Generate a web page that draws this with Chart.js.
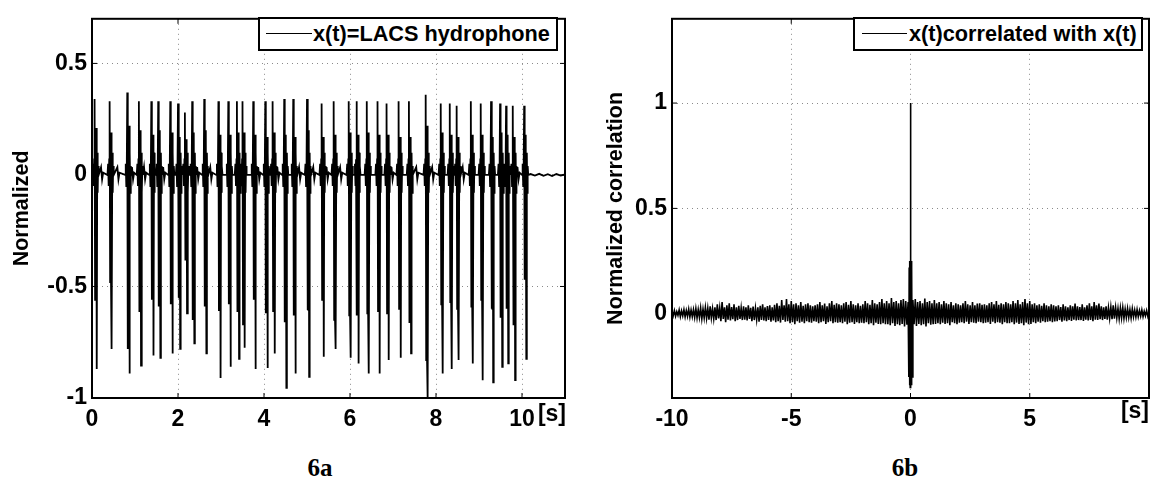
<!DOCTYPE html>
<html>
<head>
<meta charset="utf-8">
<script src="https://cdn.jsdelivr.net/npm/chart.js@4.4.1/dist/chart.umd.min.js"></script>
<style>
  body { margin: 0; background: #fff; width: 1152px; height: 484px; position: relative; overflow: hidden;
         font-family: 'Liberation Sans', Arial, sans-serif; }
  canvas { position: absolute; top: 0; }
  #sig { left: 0; }
  #corr { left: 580px; }
  .legend { position: absolute; top: 17px; height: 34px; box-sizing: border-box; border: 2px solid #000;
            background: #fff; font-weight: bold; font-size: 21.7px; line-height: 30px; white-space: nowrap; }
  .legend .ln { position: absolute; top: 14px; border-top: 1px solid #000; }
  .legend span { position: absolute; top: 0; }
  .unit { position: absolute; font-weight: bold; font-size: 23px; line-height: 23px; }
  .cap { position: absolute; top: 455px; font-family: 'Liberation Serif', 'Times New Roman', serif;
         font-weight: bold; font-size: 25px; line-height: 25px; transform: translateX(-50%); }
</style>
</head>
<body>
<canvas id="sig" width="580" height="440"></canvas>
<canvas id="corr" width="572" height="440"></canvas>

<div class="legend" style="left:258px;width:300px">
  <div class="ln" style="left:6px;width:46px"></div><span style="left:53px">x(t)=LACS hydrophone</span>
</div>
<div class="legend" style="left:853px;width:290px">
  <div class="ln" style="left:7px;width:45px"></div><span style="left:54px">x(t)correlated with x(t)</span>
</div>
<div class="unit" style="right:586px;top:402px">[s]</div>
<div class="unit" style="right:3px;top:399px">[s]</div>
<div class="cap" style="left:320px">6a</div>
<div class="cap" style="left:905px">6b</div>

<script>
// ---- 6a: hydrophone clicks (times in s, peak values)
const clickTimes = [0.06,0.41,0.82,1.09,1.38,1.54,1.82,2.00,2.16,2.33,2.61,2.94,3.17,3.37,3.50,3.75,4.03,4.20,4.47,4.68,
  5.00,5.34,5.62,5.97,6.15,6.39,6.64,6.85,7.13,7.37,7.76,8.11,8.32,8.48,8.81,9.04,9.28,9.49,9.63,9.79,10.05];
const clickHi = [0.34,0.33,0.37,0.33,0.33,0.33,0.33,0.32,0.28,0.33,0.34,0.33,0.33,0.33,0.33,0.33,0.33,0.33,0.34,0.34,
  0.34,0.32,0.33,0.33,0.33,0.33,0.33,0.32,0.33,0.33,0.36,0.32,0.32,0.31,0.33,0.32,0.33,0.32,0.31,0.31,0.31];
const clickLo = [-0.87,-0.78,-0.89,-0.855,-0.81,-0.82,-0.80,-0.78,-0.62,-0.755,-0.80,-0.91,-0.86,-0.825,-0.775,-0.87,-0.865,-0.80,-0.955,-0.89,
  -0.905,-0.815,-0.78,-0.82,-0.845,-0.89,-0.89,-0.83,-0.82,-0.80,-1.0,-0.89,-0.87,-0.83,-0.845,-0.92,-0.93,-0.86,-0.845,-0.92,-0.825];
const echoLo = [-0.56,-0.48,-0.78,-0.61,-0.56,-0.59,-0.58,-0.55,-0.38,-0.65,-0.59,-0.61,-0.58,-0.61,-0.67,-0.56,-0.62,-0.61,-0.66,-0.63,
  -0.605,-0.56,-0.65,-0.63,-0.63,-0.62,-0.61,-0.62,-0.60,-0.66,-0.83,-0.58,-0.57,-0.60,-0.59,-0.56,-0.60,-0.64,-0.60,-0.67,-0.47];
const echoHi = [0.21,0.19,0.22,0.20,0.18,0.20,0.19,0.17,0.16,0.19,0.20,0.18,0.18,0.19,0.19,0.18,0.17,0.19,0.18,0.17,
  0.20,0.17,0.18,0.19,0.18,0.19,0.18,0.18,0.17,0.17,0.22,0.19,0.18,0.17,0.18,0.18,0.17,0.19,0.18,0.17,0.18];
// small ringing before / after each click, and the little bump seen between clicks
const preDt = [-0.05,-0.035,-0.022,-0.01], preVals = [0, 0.05, -0.05, 0.07];
const postDt = [0.062,0.072,0.082,0.095], postVals = [0.1, -0.08, 0.04, 0];
const gapDt = [-0.025, 0, 0.025], gapVals = [0.035, -0.02, 0.01];
const tailTimes = [10.2,10.3,10.4,10.5,10.6,10.7,10.8,10.9,11.0];
const tailVals = [0.004,-0.003,0.005,-0.004,0.003,-0.005,0.004,-0.003,0.002];

const sigXTicks = [0,2,4,6,8,10];
const sigYTicks = [-1,-0.5,0,0.5];

// ---- 6b: autocorrelation, upper / lower noise excursions every 0.1 s from -10 to 10
const corrHi = [
  0.012,0.015,0.01,0.018,0.014,0.02,0.016,0.022,0.018,0.02,
  0.025,0.02,0.028,0.022,0.03,0.026,0.035,0.024,0.03,0.045,
  0.028,0.055,0.03,0.04,0.05,0.032,0.045,0.03,0.038,0.028,
  0.035,0.03,0.04,0.028,0.034,0.026,0.03,0.038,0.045,0.03,
  0.036,0.04,0.03,0.042,0.05,0.038,0.065,0.04,0.07,0.045,
  0.06,0.045,0.05,0.04,0.055,0.038,0.045,0.05,0.04,0.035,
  0.04,0.045,0.055,0.04,0.048,0.035,0.05,0.06,0.042,0.05,
  0.045,0.04,0.05,0.055,0.042,0.06,0.045,0.04,0.05,0.038,
  0.045,0.06,0.05,0.042,0.065,0.05,0.045,0.055,0.07,0.05,
  0.06,0.05,0.075,0.055,0.06,0.05,0.065,0.07,0.06,0.055,
  0.06,
  0.065,0.07,0.055,0.06,0.05,0.072,0.055,0.06,0.05,0.065,
  0.05,0.055,0.045,0.06,0.05,0.045,0.055,0.04,0.05,0.045,
  0.04,0.05,0.06,0.045,0.04,0.055,0.04,0.048,0.05,0.042,
  0.045,0.04,0.05,0.055,0.045,0.06,0.042,0.05,0.045,0.055,
  0.05,0.045,0.06,0.05,0.065,0.045,0.055,0.07,0.05,0.06,
  0.045,0.05,0.04,0.045,0.038,0.05,0.04,0.035,0.045,0.04,
  0.035,0.04,0.032,0.045,0.035,0.03,0.04,0.035,0.048,0.035,
  0.032,0.045,0.03,0.04,0.05,0.035,0.055,0.04,0.048,0.035,
  0.03,0.035,0.028,0.032,0.04,0.03,0.025,0.028,0.03,0.022,
  0.025,0.02,0.024,0.018,0.02,0.015,0.018,0.012,0.015,0.01];
const corrLo = [
  -0.01,-0.012,-0.008,-0.014,-0.01,-0.015,-0.012,-0.016,-0.014,-0.018,
  -0.02,-0.018,-0.025,-0.02,-0.022,-0.028,-0.02,-0.025,-0.03,-0.022,
  -0.035,-0.025,-0.04,-0.028,-0.032,-0.026,-0.035,-0.03,-0.025,-0.03,
  -0.028,-0.032,-0.025,-0.035,-0.03,-0.028,-0.038,-0.03,-0.032,-0.035,
  -0.03,-0.038,-0.032,-0.04,-0.035,-0.042,-0.03,-0.038,-0.035,-0.045,
  -0.04,-0.05,-0.035,-0.042,-0.038,-0.045,-0.035,-0.04,-0.042,-0.035,
  -0.038,-0.045,-0.04,-0.035,-0.048,-0.04,-0.036,-0.045,-0.04,-0.042,
  -0.04,-0.045,-0.038,-0.05,-0.042,-0.04,-0.048,-0.04,-0.045,-0.042,
  -0.045,-0.04,-0.05,-0.045,-0.055,-0.042,-0.048,-0.05,-0.045,-0.05,
  -0.05,-0.055,-0.045,-0.058,-0.05,-0.055,-0.048,-0.06,-0.052,-0.05,
  -0.055,
  -0.05,-0.058,-0.048,-0.055,-0.05,-0.06,-0.045,-0.052,-0.05,-0.048,
  -0.045,-0.05,-0.042,-0.048,-0.045,-0.055,-0.04,-0.045,-0.05,-0.042,
  -0.04,-0.045,-0.038,-0.048,-0.04,-0.042,-0.045,-0.038,-0.04,-0.045,
  -0.042,-0.04,-0.048,-0.038,-0.045,-0.04,-0.042,-0.05,-0.04,-0.045,
  -0.045,-0.04,-0.05,-0.042,-0.048,-0.045,-0.055,-0.042,-0.05,-0.048,
  -0.04,-0.045,-0.038,-0.042,-0.035,-0.04,-0.038,-0.035,-0.04,-0.036,
  -0.035,-0.03,-0.038,-0.032,-0.035,-0.03,-0.034,-0.028,-0.032,-0.03,
  -0.03,-0.034,-0.028,-0.032,-0.03,-0.035,-0.028,-0.03,-0.026,-0.03,
  -0.025,-0.028,-0.022,-0.026,-0.024,-0.02,-0.024,-0.02,-0.022,-0.018,
  -0.018,-0.02,-0.015,-0.016,-0.014,-0.012,-0.014,-0.01,-0.012,-0.008];
const corrStart = -10, corrStep = 0.1;
// the zero-lag peak
const centerLags = [-0.07,-0.055,-0.04,-0.025,-0.012,0,0.012,0.025,0.04,0.055,0.07];
const centerVals = [-0.3,0.22,-0.34,0.25,-0.35,1.0,-0.35,0.25,-0.34,0.22,-0.3];

const corrXTicks = [-10,-5,0,5];
const corrYTicks = [0,0.5,1];

// ---- build point lists
const sigPts = [{x: 0, y: 0.01}];
for (let i = 0; i < clickTimes.length; i++) {
  const t = clickTimes[i];
  if (i > 0 && t - clickTimes[i - 1] > 0.25) {
    const m = (t + clickTimes[i - 1]) / 2;
    gapDt.forEach((d, k) => sigPts.push({x: m + d, y: gapVals[k]}));
  }
  preDt.forEach((d, k) => sigPts.push({x: t + d, y: preVals[k]}));
  // each click: sharp positive, a dense double swing, then the deep negative
  sigPts.push({x: t, y: clickHi[i]});
  sigPts.push({x: t + 0.012, y: echoLo[i]});
  sigPts.push({x: t + 0.022, y: echoHi[i]});
  sigPts.push({x: t + 0.032, y: echoLo[i]});
  sigPts.push({x: t + 0.041, y: echoHi[i]});
  sigPts.push({x: t + 0.05, y: clickLo[i]});
  postDt.forEach((d, k) => sigPts.push({x: t + d, y: postVals[k]}));
}
tailTimes.forEach((t, k) => sigPts.push({x: t, y: tailVals[k]}));
sigPts.sort((a, b) => a.x - b.x);

const corrPts = [];
for (let i = 0; i < corrHi.length; i++) {
  const t = corrStart + i * corrStep;
  if (Math.abs(t) > 0.08) corrPts.push({x: t, y: corrHi[i]});
  if (Math.abs(t + corrStep / 2) > 0.08 && t + corrStep / 2 <= 10) corrPts.push({x: t + corrStep / 2, y: corrLo[i]});
}
centerLags.forEach((t, k) => corrPts.push({x: t, y: centerVals[k]}));
corrPts.sort((a, b) => a.x - b.x);

// ---- look
const FONT = "'Liberation Sans', Arial, sans-serif";
Chart.defaults.font.family = FONT;
Chart.defaults.color = '#000';

const boxPlugin = {
  id: 'box',
  afterDatasetsDraw(chart) {
    const {ctx, chartArea: a, scales} = chart;
    ctx.save();
    ctx.strokeStyle = '#000';
    ctx.lineWidth = 1;
    ctx.beginPath();
    scales.x.ticks.forEach(t => {
      const p = scales.x.getPixelForValue(t.value);
      ctx.moveTo(p, a.bottom); ctx.lineTo(p, a.bottom - 5);
      ctx.moveTo(p, a.top); ctx.lineTo(p, a.top + 5);
    });
    scales.y.ticks.forEach(t => {
      const p = scales.y.getPixelForValue(t.value);
      ctx.moveTo(a.left, p); ctx.lineTo(a.left + 5, p);
      ctx.moveTo(a.right, p); ctx.lineTo(a.right - 5, p);
    });
    ctx.stroke();
    ctx.lineWidth = 2;
    ctx.strokeRect(a.left, a.top, a.right - a.left, a.bottom - a.top);
    ctx.restore();
  }
};

function makeChart(id, pts, o) {
  return new Chart(document.getElementById(id), {
    type: 'line',
    data: { datasets: [{ data: pts, borderColor: '#000', borderWidth: o.lw, pointRadius: 0, tension: 0, fill: false }] },
    options: {
      responsive: false, animation: false, events: [],
      layout: { padding: { top: 9, right: o.padRight, left: 0, bottom: 0 } },
      plugins: { legend: { display: false }, tooltip: { enabled: false } },
      scales: {
        x: {
          type: 'linear', min: o.xMin, max: o.xMax,
          afterBuildTicks: s => { s.ticks = o.xTicks.map(v => ({value: v})); },
          afterFit: s => { s.height = 42; },
          grid: { color: '#8a8a8a', lineWidth: 1, drawTicks: false },
          border: { display: false, dash: [1, 4] },
          ticks: { autoSkip: false, maxRotation: 0, padding: 8, font: { size: 23, weight: 'bold' }, callback: v => String(v) }
        },
        y: {
          type: 'linear', min: o.yMin, max: o.yMax,
          afterBuildTicks: s => { s.ticks = o.yTicks.map(v => ({value: v})); },
          afterFit: s => { s.width = 92; },
          grid: { color: '#8a8a8a', lineWidth: 1, drawTicks: false },
          border: { display: false, dash: [1, 4] },
          ticks: { autoSkip: false, padding: 5, font: { size: 23, weight: 'bold' }, callback: v => String(v) },
          title: { display: true, text: o.yTitle, padding: { top: o.titlePad, bottom: 0 }, font: { size: 21.5, weight: 'bold' } }
        }
      }
    },
    plugins: [boxPlugin]
  });
}

makeChart('sig', sigPts, { lw: 1.8, padRight: 15, xMin: 0, xMax: 11, yMin: -1, yMax: 0.7,
  xTicks: sigXTicks, yTicks: sigYTicks, yTitle: 'Normalized', titlePad: 9 });
makeChart('corr', corrPts, { lw: 1.6, padRight: 3, xMin: -10, xMax: 10, yMin: -0.4, yMax: 1.4,
  xTicks: corrXTicks, yTicks: corrYTicks, yTitle: 'Normalized correlation', titlePad: 23 });
</script>
</body>
</html>
